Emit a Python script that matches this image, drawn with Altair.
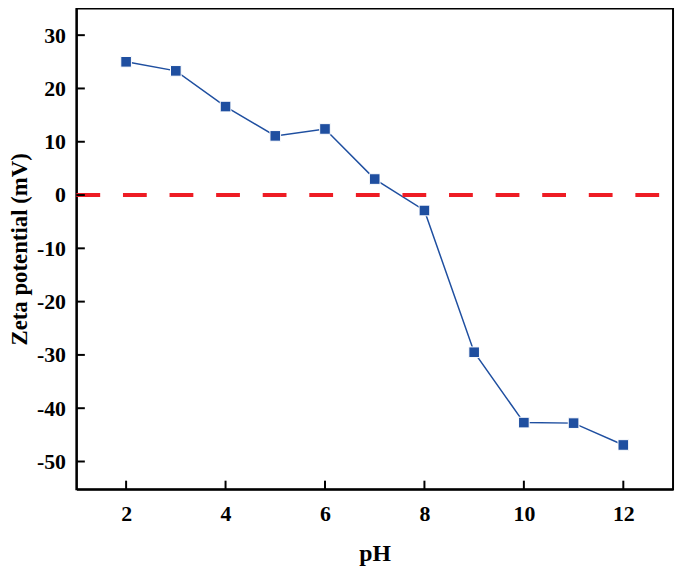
import altair as alt
import pandas as pd

ph = [2, 3, 4, 5, 6, 7, 8, 9, 10, 11, 12]
zeta = [25.0, 23.3, 16.6, 11.1, 12.4, 3.0, -2.9, -29.5, -42.7, -42.8, -46.9]
y_ticks = [-50, -40, -30, -20, -10, 0, 10, 20, 30]
x_ticks = [2, 4, 6, 8, 10, 12]
x_domain = [1, 13]
y_domain = [-55.2, 35]

df = pd.DataFrame({"pH": ph, "zeta": zeta})
zero = pd.DataFrame({"z": [0], "x0": [x_domain[0]], "x1": [x_domain[1]]})
yt = pd.DataFrame({"v": y_ticks, "edge": [x_domain[0]] * len(y_ticks),
                   "edge2": [x_domain[0] + 0.17] * len(y_ticks)})
xt = pd.DataFrame({"v": x_ticks, "edge": [y_domain[0]] * len(x_ticks),
                   "edge2": [y_domain[0] + 1.6] * len(x_ticks)})

FONT = "Liberation Serif"
BLUE = "#1f4fa0"
RED = "#ee1c24"

xs = alt.Scale(domain=x_domain, nice=False, zero=False)
ys = alt.Scale(domain=y_domain, nice=False, zero=False)

x_main = alt.X("pH:Q", scale=xs, title="pH",
               axis=alt.Axis(values=x_ticks, orient="bottom", ticks=False, tickSize=0, labelPadding=15,
                             domainColor="black", domainWidth=2, grid=False,
                             labelExpr="'' + datum.value",
                             titleFontSize=24, titlePadding=17))
y_main = alt.Y("zeta:Q", scale=ys, title="Zeta potential (mV)",
               axis=alt.Axis(values=y_ticks, orient="left", ticks=False, tickSize=0, labelPadding=11,
                             domainColor="black", domainWidth=2, grid=False,
                             labelExpr="'' + datum.value",
                             titleFontSize=23, titlePadding=5))

line = alt.Chart(df).mark_line(color=BLUE, strokeWidth=1.5).encode(x=x_main, y=y_main)

rule = alt.Chart(zero).mark_rule(color=RED, strokeWidth=4, strokeDash=[24, 23]).encode(
    x=alt.X("x0:Q", scale=xs), x2="x1:Q",
    y=alt.Y("z:Q", scale=ys))

pts = alt.Chart(df).mark_point(shape="square", filled=True, size=115, color=BLUE, opacity=1,
                               stroke="white", strokeWidth=1).encode(
    x=alt.X("pH:Q", scale=xs), y=alt.Y("zeta:Q", scale=ys))

# inward tick marks
ytick_marks = alt.Chart(yt).mark_rule(color="black", strokeWidth=2, opacity=1).encode(
    y=alt.Y("v:Q", scale=ys), x=alt.X("edge:Q", scale=xs), x2="edge2:Q")
xtick_marks = alt.Chart(xt).mark_rule(color="black", strokeWidth=2, opacity=1).encode(
    x=alt.X("v:Q", scale=xs), y=alt.Y("edge:Q", scale=ys), y2="edge2:Q")

chart = alt.layer(line, rule, pts, ytick_marks, xtick_marks).properties(
    width=602, height=485,
    autosize=alt.AutoSizeParams(type="none"),
    padding={"left": 69, "top": -2, "right": 4, "bottom": 80},
).configure_view(stroke="black", strokeWidth=2).configure_axis(
    labelFont=FONT, labelFontSize=22, labelFontWeight="bold", labelColor="black",
    titleFont=FONT, titleFontWeight="bold", titleColor="black",
)

chart.save("out.html", embed_options={"renderer": "svg", "actions": False})
